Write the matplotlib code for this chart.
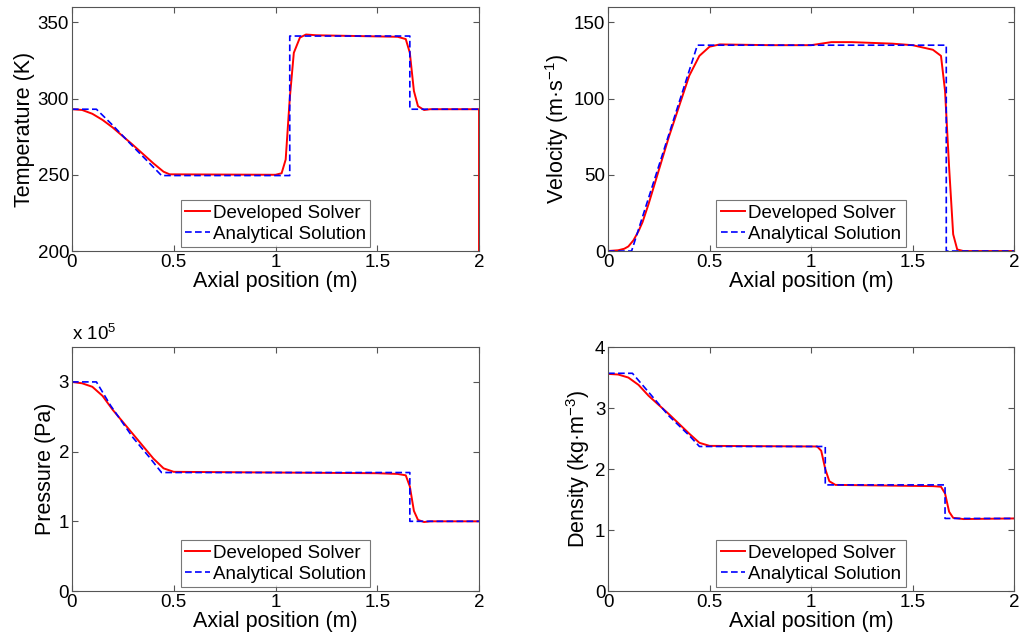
import numpy as np
import matplotlib
matplotlib.use("Agg")
import matplotlib.pyplot as plt
from matplotlib.ticker import FuncFormatter

plt.rcParams['font.family'] = ['Liberation Sans', 'DejaVu Sans']
plt.rcParams['mathtext.default'] = 'regular'

# temperature (K)
x_T_sol = [0, 0.05, 0.1, 0.15, 0.2, 0.3, 0.35, 0.4, 0.45, 0.48, 1.0, 1.03, 1.05, 1.07, 1.09,
           1.12, 1.15, 1.2, 1.6, 1.64, 1.66, 1.68, 1.7, 1.73, 1.76, 2.0, 2.0]
T_sol = [293, 292.5, 290, 286, 281, 269.5, 263.5, 257.5, 252, 250.3, 250, 251, 260, 300, 330,
         340, 342, 341.5, 340.5, 339, 330, 305, 295, 292.5, 293, 293, 200]
x_T_an = [0, 0.12, 0.2, 0.3, 0.4, 0.44, 1.07, 1.07, 1.66, 1.66, 2.0]
T_an = [293, 293, 282.5, 268.5, 255, 249.5, 249.5, 341, 341, 293, 293]

# velocity (m/s)
x_u_sol = [0, 0.05, 0.08, 0.1, 0.125, 0.15, 0.17, 0.2, 0.3, 0.4, 0.45, 0.5, 0.55, 0.8, 1.0,
           1.1, 1.2, 1.4, 1.5, 1.6, 1.64, 1.66, 1.68, 1.7, 1.72, 1.75, 2.0]
u_sol = [0, 0.5, 1.5, 3, 7, 13, 19, 31, 75, 115, 128, 134, 135.5, 135, 135,
         137, 137, 136, 135, 132, 128, 105, 55, 11, 1, 0, 0]
x_u_an = [0, 0.116, 0.44, 1.666, 1.666, 2.0]
u_an = [0, 0, 135, 135, 0, 0]

# pressure (Pa)
x_p_sol = [0, 0.05, 0.1, 0.15, 0.2, 0.3, 0.4, 0.45, 0.5, 1.5, 1.6, 1.64, 1.66, 1.68, 1.7,
           1.73, 1.76, 2.0]
p_sol = [3.0e5, 2.98e5, 2.93e5, 2.8e5, 2.6e5, 2.25e5, 1.9e5, 1.76e5, 1.71e5, 1.69e5, 1.68e5,
         1.66e5, 1.5e5, 1.15e5, 1.02e5, 0.99e5, 1.0e5, 1.0e5]
x_p_an = [0, 0.12, 0.19, 0.3, 0.38, 0.44, 1.66, 1.66, 2.0]
p_an = [3.0e5, 3.0e5, 2.66e5, 2.2e5, 1.92e5, 1.70e5, 1.70e5, 1.0e5, 1.0e5]

# density (kg/m3)
x_rho_sol = [0, 0.05, 0.1, 0.15, 0.2, 0.3, 0.4, 0.45, 0.5, 1.03, 1.05, 1.07, 1.09, 1.12,
             1.6, 1.64, 1.66, 1.68, 1.7, 1.75, 2.0]
rho_sol = [3.56, 3.55, 3.5, 3.38, 3.2, 2.9, 2.58, 2.43, 2.38, 2.37, 2.3, 2.0, 1.8, 1.74,
           1.72, 1.71, 1.6, 1.3, 1.2, 1.18, 1.19]
x_rho_an = [0, 0.12, 0.2, 0.3, 0.4, 0.45, 1.07, 1.07, 1.66, 1.66, 2.0]
rho_an = [3.57, 3.57, 3.26, 2.87, 2.55, 2.37, 2.37, 1.74, 1.74, 1.19, 1.19]

fig = plt.figure(figsize=(10.24, 6.42), dpi=100)

pos = [[0.0703, 0.609, 0.3975, 0.380],
       [0.5938, 0.609, 0.3965, 0.380],
       [0.0703, 0.0794, 0.3975, 0.380],
       [0.5938, 0.0794, 0.3965, 0.380]]

panels = [
    (x_T_sol, T_sol, x_T_an, T_an, 'Temperature (K)', (200, 360), [200, 250, 300, 350]),
    (x_u_sol, u_sol, x_u_an, u_an, 'Velocity (m·s$^{-1}$)', (0, 160), [0, 50, 100, 150]),
    (x_p_sol, p_sol, x_p_an, p_an, 'Pressure (Pa)', (0, 3.5e5), [0, 1e5, 2e5, 3e5]),
    (x_rho_sol, rho_sol, x_rho_an, rho_an, 'Density (kg·m$^{-3}$)', (0, 4), [0, 1, 2, 3, 4]),
]

for i, (xs, ys, xa, ya, label, lim, ticks) in enumerate(panels):
    ax = fig.add_axes(pos[i])
    ax.plot(xs, ys, color='#ff0000', lw=1.4, label='Developed Solver')
    ax.plot(xa, ya, color='#0000ff', lw=1.2, ls=(0, (4, 2)), label='Analytical Solution')
    ax.set_xlim(0, 2)
    ax.set_ylim(*lim)
    ax.set_xticks([0, 0.5, 1, 1.5, 2])
    ax.set_xticklabels(['0', '0.5', '1', '1.5', '2'])
    ax.set_yticks(ticks)
    if i == 2:
        ax.yaxis.set_major_formatter(FuncFormatter(lambda v, p: '%g' % (v / 1e5)))
        ax.text(0.0, 1.012, 'x 10$^{5}$', transform=ax.transAxes, fontsize=13.5, va='bottom')
    ax.tick_params(direction='in', top=True, right=True, labelsize=13.5, length=4,
                   color='#555555', pad=2)
    for s in ax.spines.values():
        s.set_color('#555555')
        s.set_linewidth(0.8)
    ax.set_xlabel('Axial position (m)', fontsize=15.5, labelpad=0)
    ax.set_ylabel(label, fontsize=15.5, labelpad=2)
    leg = ax.legend(loc='lower center', bbox_to_anchor=(0.5, 0.015), fontsize=13.5,
                    fancybox=False, edgecolor='#555555', handlelength=1.3,
                    handletextpad=0.15, borderpad=0.25, labelspacing=0.2, borderaxespad=0)
    leg.get_frame().set_linewidth(0.8)

fig.savefig('out.png', dpi=100)
